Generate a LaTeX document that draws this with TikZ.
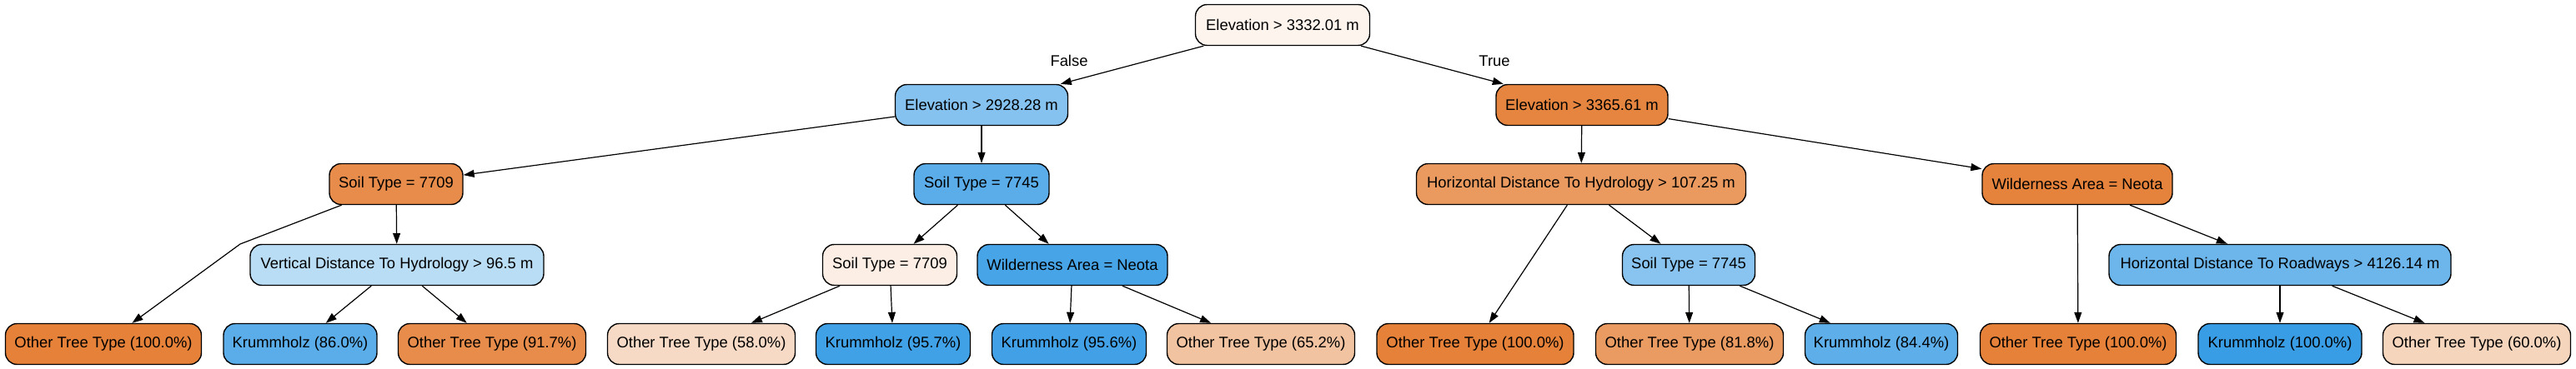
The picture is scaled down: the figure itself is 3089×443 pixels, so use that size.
\documentclass[tikz,border=0pt]{standalone}
\usepackage{fontspec}
\setmainfont{Liberation Sans}
\usetikzlibrary{arrows.meta}
\tikzset{
  tn/.style={draw=black, line width=0.7pt, rounded corners=7pt, minimum height=24.5pt, inner xsep=2pt, inner ysep=0pt, font=\fontsize{9.2}{11}\selectfont, text=black},
  edge/.style={draw=black, line width=0.6pt, -{Triangle[length=6.5pt,width=4.5pt]}},
  elabel/.style={font=\fontsize{9.2}{11}\selectfont, text=black, inner sep=0pt}
}
\definecolor{cRoot}{HTML}{FDF4EE}
\definecolor{cEa}{HTML}{85C2EF}
\definecolor{cEb}{HTML}{E5853F}
\definecolor{cSa}{HTML}{E78C4A}
\definecolor{cVd}{HTML}{BADDF6}
\definecolor{cSb}{HTML}{5AADE9}
\definecolor{cSc}{HTML}{FCEEE4}
\definecolor{cWl}{HTML}{47A4E7}
\definecolor{cHh}{HTML}{EA9A5F}
\definecolor{cWr}{HTML}{E5833C}
\definecolor{cSd}{HTML}{88C4EF}
\definecolor{cHr}{HTML}{6CB6EC}
\definecolor{cOr}{HTML}{E58139}
\definecolor{cBl}{HTML}{399DE5}
\definecolor{cLa}{HTML}{5AADE9}
\definecolor{cLb}{HTML}{E78C4A}
\definecolor{cLc}{HTML}{F7DAC5}
\definecolor{cLd}{HTML}{41A1E6}
\definecolor{cLe}{HTML}{42A1E6}
\definecolor{cLf}{HTML}{F2C3A1}
\definecolor{cLg}{HTML}{EA9B62}
\definecolor{cLh}{HTML}{5DAEE9}
\definecolor{cLi}{HTML}{F6D5BD}
\begin{document}
\begin{tikzpicture}[x=0.5pt,y=-0.5pt]
\useasboundingbox (0,0) rectangle (3089,443);
% level 0
\node[tn, fill=cRoot, minimum width=104.5pt] (root) at (1538,30) {Elevation > 3332.01 m};
% level 1
\node[tn, fill=cEa, minimum width=103.5pt] (ea) at (1177,126) {Elevation > 2928.28 m};
\node[tn, fill=cEb, minimum width=103pt] (eb) at (1897,126) {Elevation > 3365.61 m};
% level 2
\node[tn, fill=cSa, minimum width=80pt] (sa) at (475,221) {Soil Type = 7709};
\node[tn, fill=cSb, minimum width=81pt] (sb) at (1177,221) {Soil Type = 7745};
\node[tn, fill=cHh, minimum width=197.5pt] (hh) at (1896,221) {Horizontal Distance To Hydrology > 107.25 m};
\node[tn, fill=cWr, minimum width=114pt] (wr) at (2491,221) {Wilderness Area = Neota};
% level 3
\node[tn, fill=cVd, minimum width=176pt] (vd) at (476,318) {Vertical Distance To Hydrology > 96.5 m};
\node[tn, fill=cSc, minimum width=80.5pt] (sc) at (1067,318) {Soil Type = 7709};
\node[tn, fill=cWl, minimum width=114pt] (wl) at (1286,318) {Wilderness Area = Neota};
\node[tn, fill=cSd, minimum width=79.5pt] (sd) at (2025,318) {Soil Type = 7745};
\node[tn, fill=cHr, minimum width=205pt] (hr) at (2734,318) {Horizontal Distance To Roadways > 4126.14 m};
% leaves
\node[tn, fill=cOr, minimum width=117.5pt] (l1) at (124,413) {Other Tree Type (100.0\%)};
\node[tn, fill=cLa, minimum width=92pt] (l2) at (360,413) {Krummholz (86.0\%)};
\node[tn, fill=cLb, minimum width=112.5pt] (l3) at (590,413) {Other Tree Type (91.7\%)};
\node[tn, fill=cLc, minimum width=112.5pt] (l4) at (841,413) {Other Tree Type (58.0\%)};
\node[tn, fill=cLd, minimum width=92.5pt] (l5) at (1071,413) {Krummholz (95.7\%)};
\node[tn, fill=cLe, minimum width=92.5pt] (l6) at (1282,413) {Krummholz (95.6\%)};
\node[tn, fill=cLf, minimum width=112.5pt] (l7) at (1512,413) {Other Tree Type (65.2\%)};
\node[tn, fill=cOr, minimum width=118pt] (l8) at (1769,413) {Other Tree Type (100.0\%)};
\node[tn, fill=cLg, minimum width=112.5pt] (l9) at (2026,413) {Other Tree Type (81.8\%)};
\node[tn, fill=cLh, minimum width=91.5pt] (l10) at (2256,413) {Krummholz (84.4\%)};
\node[tn, fill=cOr, minimum width=117.5pt] (l11) at (2492,413) {Other Tree Type (100.0\%)};
\node[tn, fill=cBl, minimum width=98pt] (l12) at (2734,413) {Krummholz (100.0\%)};
\node[tn, fill=cLi, minimum width=112.5pt] (l13) at (2970,413) {Other Tree Type (60.0\%)};
% edge labels
\node[elabel] (lf) at (1282,73) {False};
\node[elabel] (lt) at (1792,73) {True};
% edges
\draw[edge] (root) -- (ea);
\draw[edge] (root) -- (eb);
\draw[edge] (ea) -- (sa);
\draw[edge] (ea) -- (sb);
\draw[edge] (eb) -- (hh);
\draw[edge] (eb) -- (wr);
\coordinate (bend) at (288,293);
\draw[edge] (sa) -- (bend) -- (l1);
\draw[edge] (sa) -- (vd);
\draw[edge] (vd) -- (l2);
\draw[edge] (vd) -- (l3);
\draw[edge] (sb) -- (sc);
\draw[edge] (sb) -- (wl);
\draw[edge] (sc) -- (l4);
\draw[edge] (sc) -- (l5);
\draw[edge] (wl) -- (l6);
\draw[edge] (wl) -- (l7);
\draw[edge] (hh) -- (l8);
\draw[edge] (hh) -- (sd);
\draw[edge] (sd) -- (l9);
\draw[edge] (sd) -- (l10);
\draw[edge] (wr) -- (l11);
\draw[edge] (wr) -- (hr);
\draw[edge] (hr) -- (l12);
\draw[edge] (hr) -- (l13);
\end{tikzpicture}
\end{document}
